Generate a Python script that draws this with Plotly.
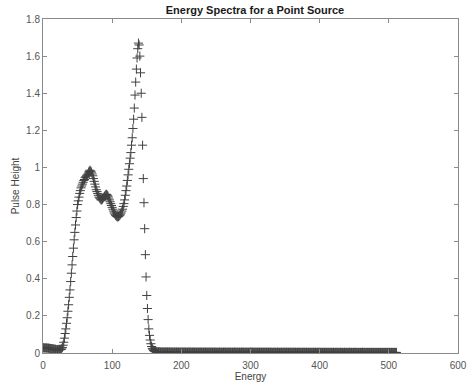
import plotly.graph_objects as go

# Pulse height per energy channel (channel 0..511)
rise = [
    0.028, 0.028, 0.027, 0.028, 0.027, 0.027, 0.026, 0.027, 0.026, 0.025,
    0.025, 0.024, 0.024, 0.023, 0.022, 0.022, 0.021, 0.020, 0.020, 0.019,
    0.018, 0.018, 0.017, 0.017, 0.017, 0.018, 0.019, 0.022,
    0.030, 0.042, 0.058, 0.080, 0.105, 0.130, 0.160, 0.190, 0.225, 0.260,
    0.300, 0.340, 0.385, 0.430, 0.475, 0.520, 0.565, 0.610, 0.650, 0.690,
    0.730, 0.765,
]
bump = [
    0.800, 0.820, 0.840, 0.860, 0.875, 0.890, 0.900, 0.910, 0.920, 0.930,
    0.935, 0.945, 0.950, 0.955, 0.960, 0.965, 0.975, 0.980, 0.985, 0.980,
    0.975, 0.965, 0.955, 0.940, 0.925, 0.910, 0.895, 0.880, 0.870, 0.860,
    0.850, 0.840, 0.835, 0.830, 0.825, 0.825, 0.830, 0.835, 0.840, 0.845,
    0.850, 0.855, 0.855, 0.850, 0.845, 0.835, 0.825, 0.815, 0.805, 0.795,
    0.785, 0.775, 0.765, 0.755, 0.748, 0.742, 0.738, 0.735, 0.733, 0.735,
    0.738, 0.742, 0.748, 0.755, 0.765, 0.775, 0.790, 0.805, 0.825, 0.850,
    0.875, 0.900, 0.930, 0.960, 0.990, 1.020, 1.050, 1.080, 1.120, 1.160,
    1.210, 1.260, 1.320, 1.390, 1.460, 1.530, 1.590, 1.640,
]
peak = [
    1.670, 1.660, 1.600, 1.510, 1.400, 1.270, 1.120, 0.940, 0.810, 0.670,
    0.530, 0.410, 0.310, 0.240, 0.180, 0.130, 0.095, 0.070, 0.050, 0.035,
    0.025, 0.018, 0.013, 0.010, 0.008,
]
tail = [
    0.007, 0.007, 0.006, 0.006, 0.006, 0.006, 0.006, 0.005, 0.005, 0.005,
    0.005, 0.005, 0.005, 0.005, 0.005, 0.005, 0.005, 0.005, 0.005, 0.005,
    0.005, 0.005, 0.005, 0.004, 0.005, 0.005, 0.004, 0.005, 0.005, 0.004,
    0.005, 0.004, 0.005, 0.005, 0.004, 0.005, 0.004, 0.005, 0.004, 0.005,
    0.004, 0.005, 0.005, 0.004, 0.005, 0.004, 0.004, 0.005, 0.004, 0.005,
    0.005, 0.004, 0.004, 0.005, 0.004, 0.005, 0.004, 0.004, 0.005, 0.004,
    0.004, 0.005, 0.004, 0.004, 0.005, 0.004, 0.005, 0.004, 0.004, 0.004,
    0.005, 0.004, 0.004, 0.005, 0.004, 0.004, 0.004, 0.005, 0.004, 0.004,
    0.004, 0.005, 0.004, 0.004, 0.004, 0.004, 0.005, 0.004, 0.004, 0.004,
    0.004, 0.004, 0.005, 0.004, 0.004, 0.004, 0.004, 0.004, 0.004, 0.005,
    0.004, 0.004, 0.004, 0.004, 0.004, 0.004, 0.005, 0.004, 0.004, 0.004,
    0.004, 0.004, 0.004, 0.004, 0.005, 0.004, 0.004, 0.004, 0.004, 0.004,
    0.004, 0.004, 0.004, 0.004, 0.004, 0.005, 0.004, 0.004, 0.004, 0.004,
    0.004, 0.004, 0.004, 0.004, 0.004, 0.004, 0.004, 0.004, 0.005, 0.004,
    0.004, 0.004, 0.004, 0.004, 0.004, 0.004, 0.004, 0.004, 0.004, 0.004,
    0.004, 0.004, 0.004, 0.004, 0.004, 0.004, 0.004, 0.004, 0.004, 0.004,
    0.004, 0.004, 0.004, 0.004, 0.004, 0.004, 0.004, 0.004, 0.004, 0.003,
    0.004, 0.004, 0.004, 0.004, 0.003, 0.004, 0.004, 0.004, 0.004, 0.003,
    0.004, 0.004, 0.004, 0.003, 0.004, 0.004, 0.004, 0.003, 0.004, 0.004,
    0.004, 0.003, 0.004, 0.004, 0.003, 0.004, 0.004, 0.003, 0.004, 0.004,
    0.003, 0.004, 0.004, 0.003, 0.004, 0.003, 0.004, 0.004, 0.003, 0.004,
    0.003, 0.004, 0.003, 0.004, 0.004, 0.003, 0.004, 0.003, 0.004, 0.003,
    0.004, 0.003, 0.004, 0.003, 0.004, 0.003, 0.003, 0.004, 0.003, 0.004,
    0.003, 0.004, 0.003, 0.003, 0.004, 0.003, 0.004, 0.003, 0.003, 0.004,
    0.003, 0.003, 0.004, 0.003, 0.003, 0.004, 0.003, 0.003, 0.003, 0.004,
    0.003, 0.003, 0.003, 0.004, 0.003, 0.003, 0.003, 0.004, 0.003, 0.003,
    0.003, 0.003, 0.004, 0.003, 0.003, 0.003, 0.003, 0.004, 0.003, 0.003,
    0.003, 0.003, 0.003, 0.004, 0.003, 0.003, 0.003, 0.003, 0.003, 0.003,
    0.004, 0.003, 0.003, 0.003, 0.003, 0.003, 0.003, 0.003, 0.004, 0.003,
    0.003, 0.003, 0.003, 0.003, 0.003, 0.003, 0.003, 0.003, 0.003, 0.004,
    0.003, 0.003, 0.003, 0.003, 0.003, 0.003, 0.003, 0.003, 0.003, 0.003,
    0.003, 0.003, 0.003, 0.003, 0.003, 0.003, 0.003, 0.003, 0.003, 0.003,
    0.003, 0.003, 0.003, 0.003, 0.003, 0.003, 0.003, 0.003, 0.003, 0.003,
    0.003, 0.003, 0.003, 0.003, 0.003, 0.003, 0.003, 0.003, 0.003, 0.003,
    0.003, 0.003, 0.003, 0.003, 0.003, 0.003, 0.003, 0.003, 0.003,
]
pulse_height = rise + bump + peak + tail
energy = list(range(len(pulse_height)))

x_ticks = [0, 100, 200, 300, 400, 500, 600]
y_ticks = [0, 0.2, 0.4, 0.6, 0.8, 1, 1.2, 1.4, 1.6, 1.8]
y_tick_text = ["0", "0.2", "0.4", "0.6", "0.8", "1", "1.2", "1.4", "1.6", "1.8"]

FONT = "Liberation Sans, Arial, Helvetica, sans-serif"
AX = "#8a8a8a"

fig = go.Figure(
    go.Scatter(
        x=energy,
        y=pulse_height,
        mode="markers",
        marker=dict(symbol="cross-thin", size=6.5, line=dict(width=1, color="#404040"), color="#404040"),
        hoverinfo="x+y",
    )
)

axis_common = dict(
    showline=True, linecolor=AX, linewidth=1, mirror="ticks",
    ticks="inside", ticklen=4, tickcolor=AX, tickwidth=1,
    showgrid=False, zeroline=False, ticklabeloverflow="allow",
    tickfont=dict(family=FONT, size=10, color="#555555"),
)

fig.update_layout(
    width=475, height=388,
    margin=dict(l=43, r=8, t=19, b=35),
    paper_bgcolor="white", plot_bgcolor="white",
    showlegend=False,
    title=dict(
        text="<b>Energy Spectra for a Point Source</b>",
        x=255 / 475, xanchor="center",
        y=1 - 10 / 388, yanchor="middle",
        font=dict(family=FONT, size=11, color="#1a1a1a"),
    ),
    xaxis=dict(
        range=[0, 600], tickvals=x_ticks, ticklabelstandoff=3,
        title=dict(text="Energy", standoff=1, font=dict(family=FONT, size=10, color="#444444")),
        **axis_common,
    ),
    yaxis=dict(
        range=[0, 1.8], tickvals=y_ticks, ticktext=y_tick_text,
        title=dict(text="Pulse Height", standoff=4, font=dict(family=FONT, size=10, color="#444444")),
        **axis_common,
    ),
)

fig.write_html("out.html")
